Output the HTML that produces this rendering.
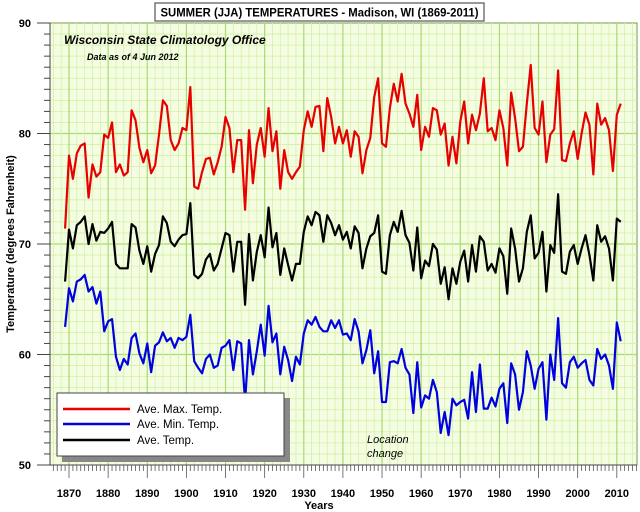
<!DOCTYPE html>
<html><head><meta charset="utf-8"><style>
body{margin:0;background:#fff;}
svg{display:block;font-family:"Liberation Sans",Arial,sans-serif;}
</style></head><body>
<svg id="chart" width="640" height="512" xmlns="http://www.w3.org/2000/svg">
<rect x="155" y="3" width="329" height="18" fill="#fff" stroke="#555" stroke-width="1.2"/>
<text x="319.5" y="16.5" text-anchor="middle" font-size="12" font-weight="bold" textLength="318" lengthAdjust="spacingAndGlyphs">SUMMER (JJA) TEMPERATURES - Madison, WI (1869-2011)</text>
<rect x="50" y="23" width="587" height="442" fill="#f4fde2" stroke="#7a9a50" stroke-width="1"/>
<g id="grid"></g>
<g id="axes"></g>
<g id="series"></g>
<text x="64" y="44" font-size="12" font-weight="bold" font-style="italic">Wisconsin State Climatology Office</text>
<text x="87" y="60" font-size="9" font-weight="bold" font-style="italic">Data as of 4  Jun 2012</text>
<text x="367" y="443" font-size="11" font-style="italic">Location</text>
<text x="367" y="457" font-size="11" font-style="italic">change</text>
<g>
<rect x="62" y="398" width="228" height="64" fill="#888"/>
<rect x="57" y="393" width="227" height="63" fill="#fff" stroke="#444" stroke-width="1"/>
<line x1="63" y1="409" x2="130" y2="409" stroke="#e00" stroke-width="2.5"/>
<text x="137" y="413" font-size="11.5">Ave. Max. Temp.</text>
<line x1="63" y1="424" x2="130" y2="424" stroke="#00d" stroke-width="2.5"/>
<text x="137" y="428" font-size="11.5">Ave. Min. Temp.</text>
<line x1="63" y1="440" x2="130" y2="440" stroke="#000" stroke-width="2.5"/>
<text x="137" y="444" font-size="11.5">Ave. Temp.</text>
</g>
<text x="319" y="509" text-anchor="middle" font-size="11" font-weight="bold">Years</text>
<text transform="translate(14,244) rotate(-90)" text-anchor="middle" font-size="11" font-weight="bold">Temperature (degrees Fahrenheit)</text>
</svg>
<script>
const startYear = 1869;
const maxTemps = [71.4,78.0,75.9,78.2,78.9,79.1,74.2,77.2,76.1,76.5,79.9,79.6,81.0,76.5,77.2,76.2,76.5,82.1,81.2,78.7,77.4,78.5,76.4,77.1,79.9,83.0,82.5,79.4,78.5,79.1,80.5,80.3,84.2,75.2,75.0,76.5,77.7,77.8,76.3,77.4,78.8,81.5,80.5,76.5,79.4,79.4,73.1,80.3,75.5,79.0,80.5,77.9,82.3,78.4,80.2,75.0,78.5,76.5,75.9,76.5,77.0,80.3,82.0,80.6,82.4,82.5,78.4,83.2,81.5,79.1,80.6,79.1,80.3,77.9,80.2,79.7,76.4,78.5,79.6,83.3,85.0,79.1,78.8,82.3,84.5,82.9,85.4,82.7,81.8,80.6,83.5,78.5,80.6,79.7,82.3,82.1,79.9,80.9,77.1,79.7,77.3,81.1,82.9,79.1,81.7,80.3,81.8,85.0,80.2,80.5,79.4,82.1,80.5,77.1,83.7,81.4,78.4,78.8,82.7,86.2,80.5,79.9,82.9,77.4,79.9,80.4,85.7,77.6,77.5,79.1,80.2,77.7,80.0,81.9,80.8,76.3,82.7,80.8,81.4,80.3,76.6,81.7,82.7];
const avgTemps = [66.6,71.3,69.6,71.7,72.0,72.5,70.0,71.8,70.3,71.1,71.0,71.4,72.0,68.2,67.8,67.8,67.8,71.8,71.5,69.4,68.2,69.8,67.5,69.1,69.9,72.5,71.9,70.2,69.8,70.4,70.8,70.9,73.7,67.2,66.9,67.3,68.6,69.1,67.6,68.2,69.6,71.0,70.8,67.5,70.2,70.2,64.5,70.9,66.7,69.3,70.8,68.8,73.3,69.7,71.0,67.2,69.6,68.1,66.7,68.2,68.2,71.1,72.5,71.7,72.9,72.6,70.2,72.6,71.9,70.8,71.7,70.4,71.1,69.6,71.6,71.0,67.8,69.6,70.7,71.0,72.6,67.5,67.3,70.8,72.0,71.1,73.0,70.8,70.1,67.6,71.5,66.9,68.5,68.0,70.0,69.5,66.4,67.9,65.0,67.8,66.4,68.4,69.4,66.6,69.9,67.5,70.7,70.2,67.6,68.2,67.4,69.6,68.9,65.5,71.4,69.6,66.6,67.8,71.1,72.6,68.7,69.2,71.1,65.7,69.9,69.2,74.5,67.5,67.3,69.3,69.9,68.2,69.6,70.8,69.0,66.7,71.7,70.2,70.7,69.6,66.7,72.3,72.0];
const minTemps = [62.5,66.0,64.8,66.6,66.8,67.2,65.7,66.1,64.6,65.7,62.1,63.0,63.2,59.8,58.6,59.6,59.1,61.5,61.9,60.1,59.2,61.0,58.4,60.8,61.1,62.0,61.2,61.5,60.6,61.5,61.3,61.6,63.6,59.4,58.8,58.3,59.6,60.0,58.8,59.0,60.6,60.8,61.3,58.6,61.2,61.0,55.7,61.3,58.2,60.3,62.7,59.9,64.4,61.1,61.9,58.2,60.7,59.5,57.6,59.8,59.1,61.9,63.1,62.7,63.4,62.5,62.1,62.1,63.1,62.4,63.1,61.8,61.9,61.3,63.2,62.1,59.2,60.4,62.2,58.3,60.3,55.7,55.7,59.3,59.4,59.2,60.5,58.8,58.2,54.7,59.3,55.2,56.3,56.0,57.7,56.6,52.9,54.8,52.7,56.0,55.4,55.7,55.9,54.2,58.4,54.8,59.1,55.1,55.1,56.1,55.3,56.9,57.4,53.8,59.2,58.2,55.0,56.6,60.3,59.0,56.9,58.7,59.3,54.1,60.0,57.7,63.3,57.4,57.0,59.3,59.8,58.8,59.2,59.5,57.7,57.2,60.5,59.6,60.0,59.0,56.9,62.9,61.2];
const yTicks = [50,60,70,80,90];
const xTicks = [1870,1880,1890,1900,1910,1920,1930,1940,1950,1960,1970,1980,1990,2000,2010];

const NS = "http://www.w3.org/2000/svg";
function xs(yr){ return 69 + (yr - 1870) * 3.913; }
function ys(v){ return 23 + (90 - v) * 11.05; }
function mk(tag, attrs, parent){ const e = document.createElementNS(NS, tag); for (const k in attrs) e.setAttribute(k, attrs[k]); parent.appendChild(e); return e; }

const grid = document.getElementById('grid');
const axes = document.getElementById('axes');
const series = document.getElementById('series');

for (let v = 51; v < 90; v++) {
  const l = mk('line', {x1:50, x2:637, y1:ys(v), y2:ys(v), stroke: v % 10 === 0 ? '#a8dc70' : '#d4f0a8', 'stroke-width': v % 10 === 0 ? 1.2 : 0.8}, grid);
  
  
}
for (let yr = 1866; yr <= 2014; yr += 2) {
  const l = mk('line', {x1:xs(yr), x2:xs(yr), y1:23, y2:465, stroke: yr % 10 === 0 ? '#a8dc70' : '#d4f0a8', 'stroke-width': yr % 10 === 0 ? 1.2 : 0.8}, grid);
  
  
}
mk('line', {x1:50, x2:50, y1:23, y2:465, stroke:'#444', 'stroke-width':1}, axes);
mk('line', {x1:37, x2:637, y1:465, y2:465, stroke:'#444', 'stroke-width':1}, axes);
for (let v = 50; v <= 90; v++) {
  const major = v % 10 === 0;
  mk('line', {x1: major ? 37 : 44, x2:50, y1:ys(v), y2:ys(v), stroke:'#444', 'stroke-width':1}, axes);
}
yTicks.forEach(v => {
  const t = mk('text', {x:31, y:ys(v)+4, 'text-anchor':'end', 'font-size':11, 'font-weight':'bold'}, axes);
  t.textContent = v;
  
  
});
for (let yr = 1866; yr <= 2015; yr++) {
  const major = yr % 10 === 0;
  mk('line', {x1:xs(yr), x2:xs(yr), y1:465, y2: major ? 478 : 471, stroke:'#555', 'stroke-width':0.8}, axes);
}
xTicks.forEach(yr => {
  const t = mk('text', {x:xs(yr), y:497, 'text-anchor':'middle', 'font-size':11, 'font-weight':'bold'}, axes);
  t.textContent = yr;
  
  
});

function drawLine(vals, color, name){
  const pts = vals.map((v,i) => xs(startYear + i).toFixed(2) + ',' + ys(v).toFixed(2)).join(' ');
  const p = mk('polyline', {points: pts, fill:'none', stroke: color, 'stroke-width':2.2, 'stroke-linejoin':'round'}, series);
  
  
}
drawLine(maxTemps, '#e80000', 'max-temp-line');
drawLine(avgTemps, '#000000', 'avg-temp-line');
drawLine(minTemps, '#0000e0', 'min-temp-line');
</script>
</body></html>
